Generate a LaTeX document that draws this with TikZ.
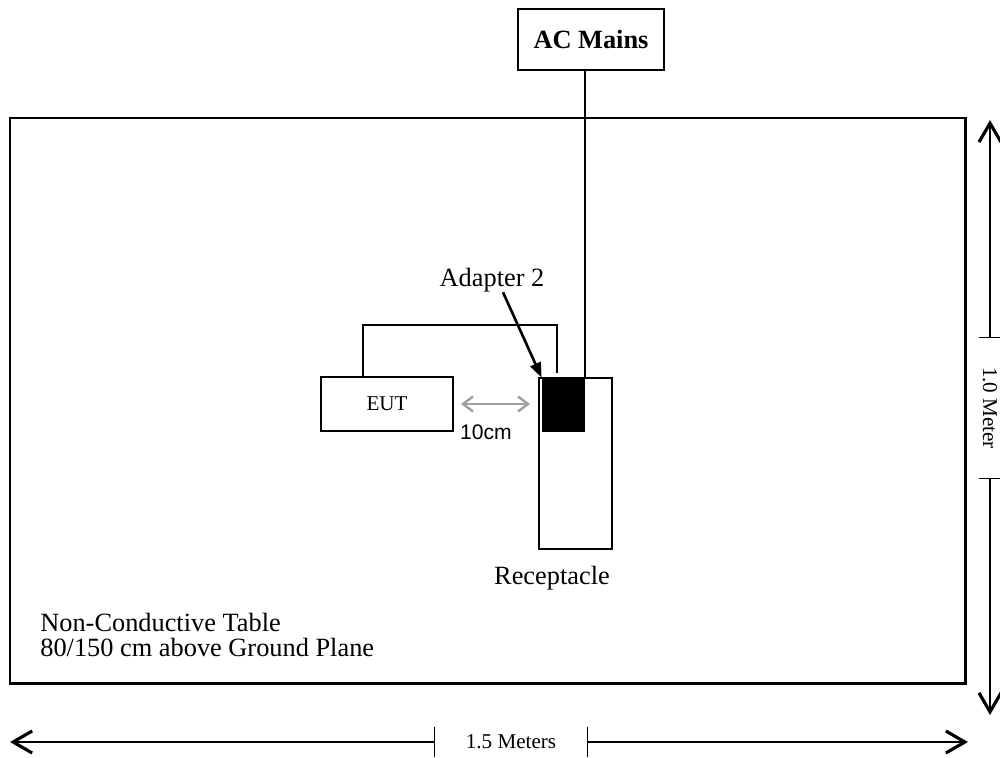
\documentclass[tikz,border=0pt]{standalone}
\usepackage{fontspec}
\setmainfont{Liberation Serif}
\newfontfamily\arialfont{Liberation Sans}
\usetikzlibrary{arrows.meta, positioning}
\definecolor{gapgray}{RGB}{160,160,160}
\tikzset{
  box/.style={rectangle, draw=black, fill=white, line width=1.1pt,
    inner sep=0pt},
  wire/.style={line width=1.1pt},
  dimline/.style={line width=0.8pt},
  dimarrow/.style={dimline, -{Straight Barb[length=0.38cm, width=0.44cm, line width=1.8pt]}},
  ptr/.style={line width=1.5pt, -{Triangle[length=0.3cm, width=0.22cm]}},
  gaparrow/.style={gapgray, line width=1.2pt,
    {Straight Barb[length=0.2cm, width=0.3cm, line width=1.4pt]}-{Straight Barb[length=0.2cm, width=0.3cm, line width=1.4pt]}},
  lbl/.style={font=\fontsize{15}{15}\selectfont, inner sep=0pt}
}

\begin{document}
\begin{tikzpicture}[x=0.02cm, y=-0.02cm]
  \useasboundingbox (0,0) rectangle (1000,757);

  % table and setup
  \draw[line width=1.7pt] (10,118) rectangle (965,683);
  \node[box, minimum width=2.92cm, minimum height=1.22cm,
    font=\fontsize{15}{15}\selectfont\bfseries] (ac) at (591,39.5) {AC Mains};
  \node[box, minimum width=1.46cm, minimum height=3.42cm] (rcpt) at (575.5,463.5) {};
  \node[rectangle, fill=black, inner sep=0pt, minimum width=0.86cm,
    minimum height=1.08cm] (adapter) at (563.5,405) {};
  \node[box, minimum width=2.64cm, minimum height=1.08cm,
    font=\fontsize{12}{12}\selectfont] (eut) at (387,404) {EUT};

  \node[lbl] (adlabel) at (492,280) {Adapter 2};
  \node[lbl] (rcptlabel) at (552,578) {Receptacle};
  \node[lbl, align=left, anchor=west,
    font=\fontsize{15}{14.7}\selectfont] (tablelabel) at (40,635)
    {Non-Conductive Table\\80/150 cm above Ground Plane};

  % cables
  \coordinate (cabletop) at (557,325);
  \coordinate (plug) at (557,373);
  \draw[wire] (adapter.north east |- ac.south) -- (adapter.north east);
  \draw[wire] ([xshift=-0.48cm]eut.north) |- (cabletop) -- (plug);
  \draw[ptr] ([xshift=0.22cm]adlabel.south) -- (adapter.north west);

  % 10cm gap
  \coordinate (gapend) at (eut.east -| rcpt.west);
  \draw[gaparrow] ([xshift=0.14cm]eut.east) -- ([xshift=-0.16cm]gapend);
  \node[font=\arialfont\fontsize{12}{12}\selectfont, inner sep=0pt] (gaplabel)
    at (486,432) {10cm};

  % dimensions
  \coordinate (wleft) at (10,742);
  \coordinate (wright) at (968,742);
  \node[minimum width=3.04cm, minimum height=0.6cm, inner sep=0pt,
    font=\fontsize{12}{12}\selectfont] (wdim) at (511,742) {1.5 Meters};
  \draw[dimline] (wdim.north west) -- (wdim.south west);
  \draw[dimline] (wdim.north east) -- (wdim.south east);
  \draw[dimarrow] (wdim.west) -- (wleft);
  \draw[dimarrow] (wdim.east) -- (wright);

  \coordinate (htop) at (990,120);
  \coordinate (hbottom) at (990,715);
  \node[rotate=-90, minimum width=2.8cm, minimum height=0.44cm, inner sep=0pt,
    font=\fontsize{12}{12}\selectfont] (hdim) at (990,408) {1.0 Meter};
  \draw[dimline] (hdim.north west) -- (hdim.south west);
  \draw[dimline] (hdim.north east) -- (hdim.south east);
  \draw[dimarrow] (hdim.west) -- (htop);
  \draw[dimarrow] (hdim.east) -- (hbottom);
\end{tikzpicture}
\end{document}
